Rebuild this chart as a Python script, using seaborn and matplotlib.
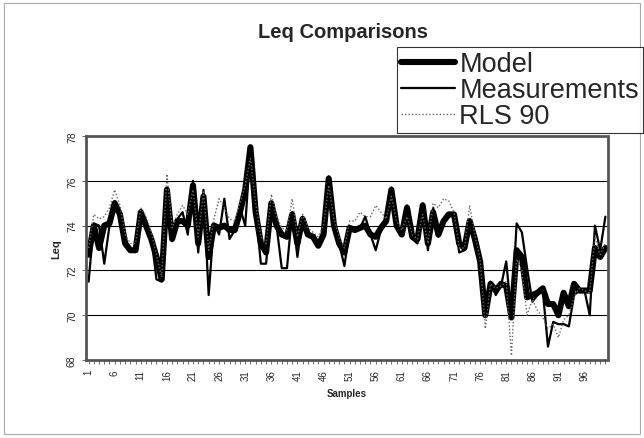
import matplotlib
matplotlib.use("Agg")
import matplotlib.pyplot as plt
import seaborn as sns
import numpy as np
from matplotlib.patches import Rectangle

samples = list(range(1, 101))
model = [72.7, 74.0, 73.0, 74.0, 74.1, 75.0, 74.5, 73.2, 72.9, 72.9,
         74.6, 74.0, 73.4, 72.6, 71.6, 75.6, 73.4, 74.2, 74.2, 74.0,
         75.8, 73.2, 75.3, 72.6, 74.0, 73.9, 74.0, 73.8, 73.8, 74.6,
         75.6, 77.5, 74.6, 73.2, 72.8, 75.0, 74.0, 73.6, 73.5, 74.5,
         73.2, 74.3, 73.6, 73.5, 73.1, 73.6, 76.1, 74.0, 73.2, 72.8,
         73.9, 73.8, 73.9, 74.0, 73.6, 73.5, 73.9, 74.2, 75.6, 74.0,
         73.6, 74.8, 73.5, 73.4, 74.9, 73.2, 74.6, 73.6, 74.2, 74.5,
         74.5, 73.2, 73.0, 74.2, 73.4, 72.4, 70.0, 71.4, 71.1, 71.4,
         71.3, 69.9, 72.9, 72.6, 70.8, 70.9, 71.0, 71.2, 70.5, 70.5,
         70.0, 71.0, 70.4, 71.4, 71.1, 71.1, 71.1, 73.0, 72.6, 73.0]
measurements = [71.5, 74.1, 74.0, 72.3, 74.0, 75.1, 74.4, 73.4, 72.9, 73.0,
                74.7, 74.0, 73.5, 71.6, 71.5, 75.7, 73.3, 74.3, 74.6, 73.6,
                76.0, 72.8, 75.6, 70.9, 74.1, 73.6, 75.2, 73.4, 73.8, 74.8,
                74.0, 77.4, 74.7, 72.3, 72.3, 75.0, 74.0, 72.1, 72.1, 74.6,
                72.6, 74.4, 73.6, 73.4, 73.2, 73.8, 76.2, 74.0, 73.2, 72.2,
                73.8, 73.9, 73.9, 74.4, 73.6, 72.9, 73.8, 74.1, 75.7, 74.0,
                73.6, 74.9, 73.4, 73.2, 75.0, 72.9, 74.8, 73.5, 74.2, 74.5,
                74.4, 72.8, 72.9, 74.2, 73.5, 72.4, 70.0, 71.5, 70.9, 71.3,
                72.4, 70.0, 74.1, 73.7, 72.1, 70.6, 70.9, 71.1, 68.6, 69.7,
                69.6, 69.6, 69.5, 70.9, 71.1, 71.1, 70.0, 74.0, 72.9, 74.4]
rls90 = [73.0, 74.5, 74.3, 74.4, 74.8, 75.6, 74.9, 73.6, 73.2, 73.2,
         74.8, 74.4, 73.7, 72.7, 71.7, 76.3, 73.9, 74.5, 74.9, 74.5,
         75.6, 73.5, 75.5, 72.9, 74.3, 75.2, 74.8, 74.3, 74.2, 75.0,
         75.8, 77.0, 75.0, 73.5, 73.2, 75.4, 74.4, 73.9, 73.8, 75.2,
         73.5, 74.5, 73.9, 73.7, 73.5, 74.0, 75.8, 74.3, 73.5, 73.0,
         74.2, 74.2, 74.6, 74.4, 74.4, 74.9, 74.6, 74.3, 75.3, 74.2,
         73.8, 74.4, 73.6, 73.4, 74.5, 73.2, 75.0, 74.8, 75.2, 75.1,
         74.6, 73.0, 73.0, 74.9, 73.6, 72.5, 69.4, 71.4, 71.2, 71.3,
         71.5, 68.2, 72.5, 72.0, 70.0, 70.7, 70.2, 69.9, 69.4, 69.6,
         69.0, 69.8, 70.0, 70.8, 71.2, 71.1, 71.0, 73.5, 72.7, 73.2]
series_names = ["Model", "Measurements", "RLS 90"]
xtick_labels = list(range(1, 101, 5))
ytick_values = [68, 70, 72, 74, 76, 78]

sns.set_style("white")
plt.rcParams["font.family"] = ["Liberation Sans", "DejaVu Sans"]

fig = plt.figure(figsize=(6.44, 4.39), dpi=100)
ax = fig.add_axes([86/644, 1-361/439, (608-86)/644, (361-137)/439])

sns.lineplot(x=samples, y=model, ax=ax, color="black", lw=4.4, label=series_names[0])
sns.lineplot(x=samples, y=measurements, ax=ax, color="black", lw=1.6, label=series_names[1])
sns.lineplot(x=samples, y=rls90, ax=ax, color="#666666", lw=1.0,
             linestyle=(0, (1, 1.5)), label=series_names[2])

ax.set_xlim(0.5, 100.5)
ax.set_ylim(68, 78)
ax.set_yticks(ytick_values)
ax.set_yticklabels([str(v) for v in ytick_values], rotation=90, va="center", fontsize=7.5)
ax.set_xticks(xtick_labels)
ax.set_xticklabels([str(v) for v in xtick_labels], rotation=90, fontsize=7)
ax.set_xticks(samples, minor=True)
ax.tick_params(axis="x", which="both", direction="out", length=3, width=0.6, color="#555555", bottom=True)
ax.tick_params(axis="y", which="major", direction="out", length=3, width=0.6, color="#555555", left=True)
for v in [70, 72, 74, 76]:
    ax.axhline(v, color="black", lw=0.8, zorder=0)
for s in ax.spines.values():
    s.set_linestyle((0, (1, 1)))
    s.set_color("#555555")
    s.set_linewidth(2.0)
ax.set_xlabel("Samples", fontsize=7, fontweight="bold", labelpad=6)
ax.set_ylabel("Leq", fontsize=8, fontweight="bold", labelpad=4)

ax.get_legend().remove()
handles, labels = ax.get_legend_handles_labels()
leg = fig.legend(handles, labels, loc="upper right", bbox_to_anchor=(643/644, 1-48/439),
                 fontsize=19.5, frameon=True, fancybox=False, edgecolor="black",
                 handlelength=2.0, handletextpad=0.15, labelspacing=0.0,
                 borderpad=0.15, borderaxespad=0)
leg.get_frame().set_linewidth(0.8)

fig.text(343/644, 1-32/439, "Leq Comparisons", ha="center", va="center",
         fontsize=14.5, fontweight="bold")
fig.patches.append(Rectangle((4/644, 4/439), 636/644, 431/439, transform=fig.transFigure,
                             fill=False, edgecolor="#aaaaaa", lw=0.8))

fig.savefig("out.png", dpi=100)
